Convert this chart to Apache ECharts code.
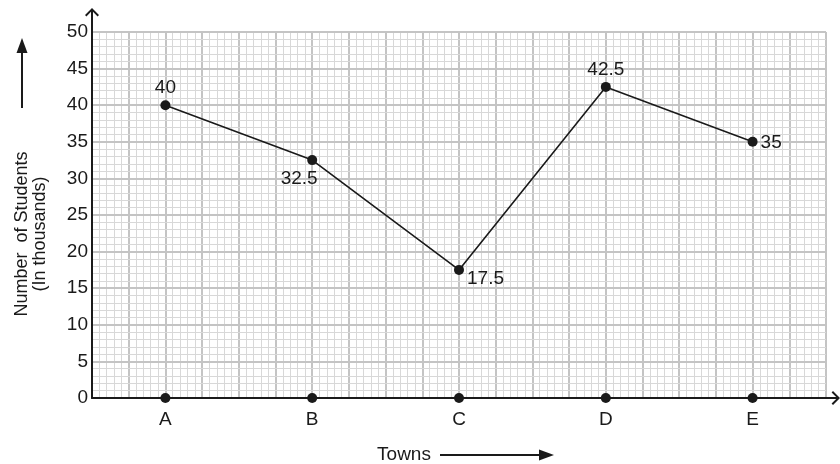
<!DOCTYPE html>
<html>
<head>
<meta charset="utf-8">
<style>
  html, body { margin: 0; padding: 0; background: #ffffff; }
  #chart { width: 840px; height: 464px; }
</style>
<script src="https://cdn.jsdelivr.net/npm/echarts@6/dist/echarts.min.js"></script>
</head>
<body>
<div id="chart"></div>
<script>
// Number of students (in thousands) per town
const towns = ['A', 'B', 'C', 'D', 'E'];
const students = [40, 32.5, 17.5, 42.5, 35];
const baseline = [0, 0, 0, 0, 0];
const yTicks = { min: 0, max: 50, step: 5 };

const FONT = 'Liberation Sans, Arial, Helvetica, sans-serif';
const INK = '#1a1a1a';
const MAJOR = '#c4c4c4';
const MINOR = '#d8d8d8';

// open chevron with a stem, pointing up in symbol space
function arrowPath(h) {
  return 'path://M7,0 L14,7 L12.6,8.4 L8,3.8 L8,' + h + ' L6,' + h +
         ' L6,3.8 L1.4,8.4 L0,7 Z';
}

// label placement around each point
const labelPos = [
  { position: 'top', offset: [0, 0] },
  { position: 'bottom', offset: [-13, 1] },
  { position: 'right', offset: [0, 9] },
  { position: 'top', offset: [0, 0] },
  { position: 'right', offset: [0, 1] }
];

const chart = echarts.init(document.getElementById('chart'));

chart.setOption({
  backgroundColor: '#ffffff',
  animation: false,
  textStyle: { fontFamily: FONT },
  grid: {
    left: 92, top: 32, width: 734, height: 366,
    containLabel: false, outerBoundsMode: 'none'
  },
  xAxis: [
    {
      type: 'category',
      data: towns,
      boundaryGap: true,
      name: 'Towns',
      nameLocation: 'middle',
      nameGap: 47,
      nameTextStyle: { fontSize: 19, color: INK, fontFamily: FONT, padding: [0, 110, 0, 0] },
      axisLine: {
        show: true,
        lineStyle: { color: INK, width: 2 },
        symbol: ['none', arrowPath(14)],
        symbolSize: [14, 14],
        symbolOffset: [0, 7]
      },
      axisTick: { show: false },
      axisLabel: { fontSize: 19, color: INK, margin: 12, fontFamily: FONT },
      splitLine: { show: false },
      z: 5
    },
    {
      // graph-paper columns: 4 major columns per town, 5 minor per major
      type: 'value',
      min: 0,
      max: 100,
      interval: 5,
      show: true,
      position: 'top',
      axisLine: { show: false },
      axisTick: { show: false },
      axisLabel: { show: false },
      splitLine: { show: true, lineStyle: { color: MAJOR, width: 2 } },
      minorTick: { show: false, splitNumber: 5 },
      minorSplitLine: { show: true, lineStyle: { color: MINOR, width: 1 } }
    }
  ],
  yAxis: {
    type: 'value',
    min: yTicks.min,
    max: yTicks.max,
    interval: yTicks.step,
    name: 'Number  of Students\n(In thousands)',
    nameLocation: 'middle',
    nameRotate: 90,
    nameGap: 43,
    nameTextStyle: {
      fontSize: 18, color: INK, fontFamily: FONT, lineHeight: 18,
      align: 'center', padding: [0, 38, 0, 0]
    },
    axisLine: {
      show: true,
      lineStyle: { color: INK, width: 2 },
      symbol: ['none', arrowPath(24)],
      symbolSize: [14, 24],
      symbolOffset: [0, 12]
    },
    axisTick: { show: false },
    axisLabel: { fontSize: 19, color: INK, margin: 4, fontFamily: FONT },
    splitLine: { show: true, lineStyle: { color: MAJOR, width: 2 } },
    minorTick: { show: false, splitNumber: 5 },
    minorSplitLine: { show: true, lineStyle: { color: MINOR, width: 1 } },
    z: 5
  },
  series: [
    {
      type: 'line',
      data: students.map((v, i) => ({
        value: v,
        label: { show: true, position: labelPos[i].position, offset: labelPos[i].offset }
      })),
      symbol: 'circle',
      symbolSize: 10,
      itemStyle: { color: INK, opacity: 1 },
      lineStyle: { color: INK, width: 1.6 },
      label: { show: true, fontSize: 19, color: INK, fontFamily: FONT, distance: 3 },
      z: 10
    },
    {
      type: 'scatter',
      data: baseline,
      symbol: 'circle',
      symbolSize: 10,
      itemStyle: { color: INK, opacity: 1 },
      z: 10
    }
  ],
  graphic: [
    // arrow beside the y-axis title
    { type: 'line', shape: { x1: 22, y1: 108, x2: 22, y2: 50 }, style: { stroke: INK, lineWidth: 2 } },
    { type: 'polygon', shape: { points: [[22, 38], [16.5, 53], [27.5, 53]] }, style: { fill: INK } },
    // arrow after the x-axis title
    { type: 'line', shape: { x1: 440, y1: 455, x2: 542, y2: 455 }, style: { stroke: INK, lineWidth: 2 } },
    { type: 'polygon', shape: { points: [[554, 455], [539, 449.5], [539, 460.5]] }, style: { fill: INK } }
  ]
});
</script>
</body>
</html>
